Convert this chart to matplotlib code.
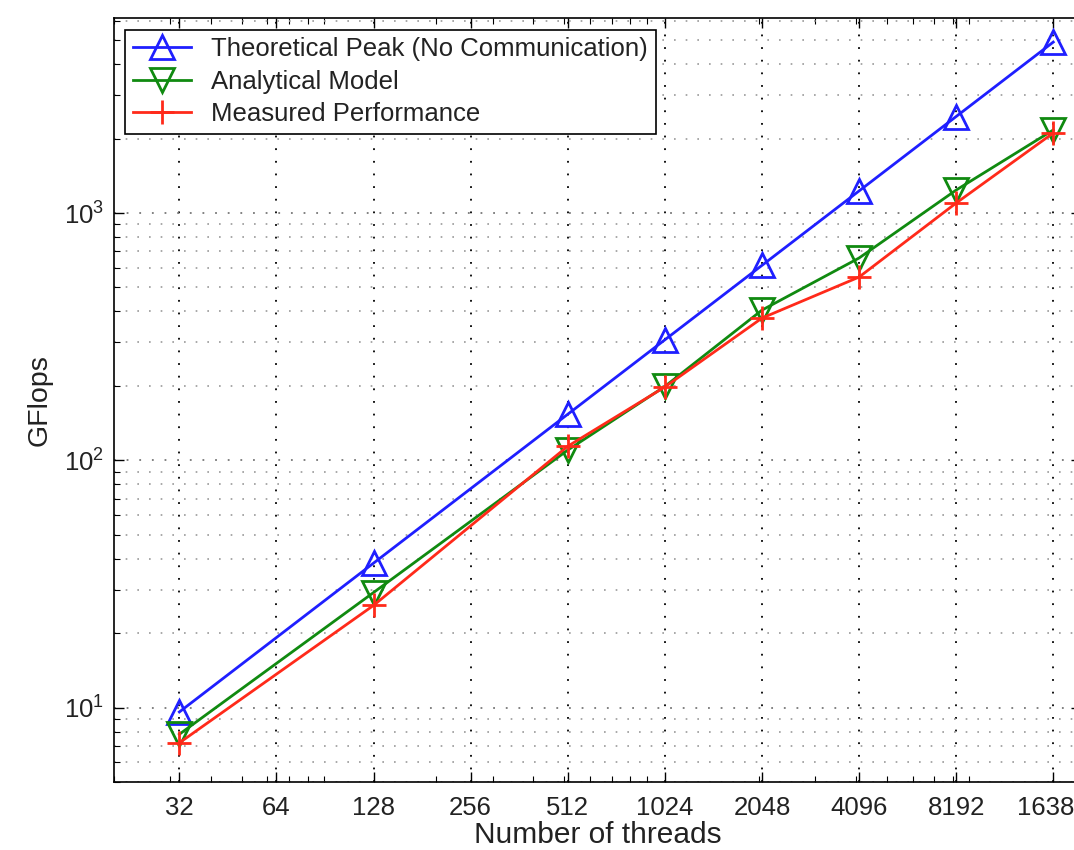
import numpy as np
import matplotlib
matplotlib.use("Agg")
import matplotlib.pyplot as plt
from matplotlib.ticker import LogLocator, NullFormatter, FixedLocator, FixedFormatter

plt.rcParams['font.family'] = ['Liberation Sans', 'DejaVu Sans']
plt.rcParams['mathtext.default'] = 'regular'

# data
threads = [32, 128, 512, 1024, 2048, 4096, 8192, 16384]
theoretical = [9.6, 38.4, 153.6, 307.2, 614.4, 1228.8, 2457.6, 4915.2]
analytical = [7.8, 29.2, 110, 199, 405, 658, 1239, 2168]
measured = [7.2, 25.9, 114, 198, 376, 551, 1098, 2108]
xtick_vals = [32, 64, 128, 256, 512, 1024, 2048, 4096, 8192, 16384]
xtick_labels = [str(v) for v in xtick_vals]

fig = plt.figure(figsize=(10.74, 8.5), dpi=100)
# axes runs a bit past the right edge of the figure, like the cropped original
ax = fig.add_axes([0.1057, 0.08, 0.901, 0.8988])

ax.loglog(threads, theoretical, '-^', color='#1f1fff', lw=2, ms=17, mfc='none', mew=2,
          label='Theoretical Peak (No Communication)')
ax.loglog(threads, analytical, '-v', color='#108a10', lw=2, ms=17, mfc='none', mew=2,
          label='Analytical Model')
ax.loglog(threads, measured, '-+', color='#ff2a1a', lw=2, ms=17, mew=2,
          label='Measured Performance')

ax.set_xlim(20, 20000)
ax.set_ylim(5, 6150)

ax.xaxis.set_major_locator(FixedLocator(xtick_vals))
ax.xaxis.set_major_formatter(FixedFormatter(xtick_labels))
ax.xaxis.set_minor_locator(LogLocator(base=10, subs=np.arange(2, 10)))
ax.xaxis.set_minor_formatter(NullFormatter())
ax.yaxis.set_major_locator(LogLocator(base=10))
ax.yaxis.set_minor_locator(LogLocator(base=10, subs=np.arange(2, 10)))
ax.yaxis.set_minor_formatter(NullFormatter())

ax.tick_params(which='both', direction='in', top=True, right=True, labelsize=18.5,
               labelcolor='#222222')
ax.tick_params(axis='x', pad=10)
ax.tick_params(axis='y', pad=7)
ax.tick_params(which='major', length=7, width=1)
ax.tick_params(which='minor', length=4, width=0.8)

ax.grid(True, which='major', axis='x', ls=(0, (1, 6)), color='black', lw=1.3)
ax.grid(True, which='major', axis='y', ls=(0, (1, 6)), color='#777777', lw=1.3)
ax.grid(True, which='minor', axis='y', ls=(0, (1, 6)), color='#999999', lw=1.2)
for s in ax.spines.values():
    s.set_linewidth(1.2)

ax.set_xlabel('Number of threads', fontsize=21.5, labelpad=1, color='#222222')
ax.set_ylabel('GFlops', fontsize=20.5, labelpad=8, color='#222222')

leg = ax.legend(loc='upper left', fontsize=18.5, fancybox=False, framealpha=1,
                edgecolor='black', borderaxespad=0.45, handlelength=2.25,
                handletextpad=0.8, labelspacing=0.33, borderpad=0.3)
leg.get_frame().set_linewidth(1.2)
for t in leg.get_texts():
    t.set_color('#222222')

fig.savefig('out.png', dpi=100)
